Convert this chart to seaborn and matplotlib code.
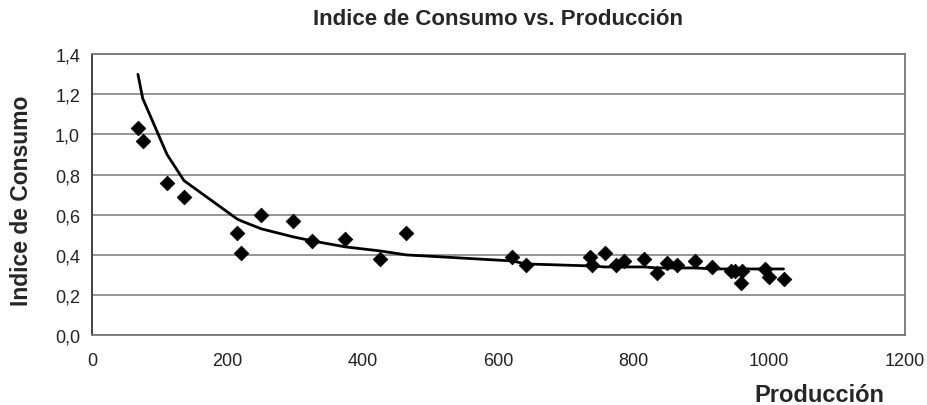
import numpy as np
import pandas as pd
import seaborn as sns
from matplotlib import pyplot as plt
from matplotlib.ticker import FuncFormatter

sns.set_style("white")
plt.rcParams['font.family'] = ['Liberation Sans', 'DejaVu Sans']

# puntos observados
produccion = [68, 75, 111, 136, 214, 220, 250, 297, 325, 374, 425, 464,
              620, 641, 736, 738, 757, 774, 786, 815, 834, 849, 863, 891,
              916, 944, 950, 958, 960, 994, 999, 1021]
indice = [1.03, 0.97, 0.76, 0.69, 0.51, 0.41, 0.60, 0.57, 0.47, 0.48, 0.38, 0.51,
          0.39, 0.35, 0.39, 0.35, 0.41, 0.35, 0.37, 0.38, 0.31, 0.36, 0.35, 0.37,
          0.34, 0.32, 0.32, 0.26, 0.32, 0.33, 0.29, 0.28]
# curva de ajuste
ajuste = [1.30, 1.18, 0.90, 0.77, 0.58, 0.57, 0.53, 0.49, 0.47, 0.44, 0.42, 0.40,
          0.37, 0.355, 0.345, 0.345, 0.34, 0.34, 0.34, 0.34, 0.335, 0.335, 0.335, 0.335,
          0.33, 0.33, 0.33, 0.33, 0.33, 0.33, 0.33, 0.33]

df = pd.DataFrame({"Producción": produccion, "Indice": indice, "Ajuste": ajuste})

fig = plt.figure(figsize=(9.28, 4.06), dpi=100)
ax = fig.add_axes([0.099, 0.172, 0.876, 0.692])

ax.grid(axis="y", color="#8c8c8c", linewidth=1.3)
ax.set_axisbelow(True)

sns.lineplot(data=df, x="Producción", y="Ajuste", color="black", linewidth=2.0,
             sort=True, ax=ax, zorder=2)
sns.scatterplot(data=df, x="Producción", y="Indice", marker="D", color="black",
                s=55, edgecolor="black", ax=ax, zorder=3)

ax.set_xlim(0, 1200)
ax.set_ylim(0, 1.4)
ax.set_xticks(range(0, 1201, 200))
ax.set_yticks(np.arange(0, 1.41, 0.2))
ax.yaxis.set_major_formatter(FuncFormatter(lambda v, p: f"{v:.1f}".replace(".", ",")))
ax.tick_params(axis="both", direction="out", length=5, width=1, color="#555555",
               labelsize=13, labelcolor="#222222")
ax.tick_params(axis="x", pad=7)

for side in ["left", "bottom", "right", "top"]:
    ax.spines[side].set_color("#777777")
    ax.spines[side].set_linewidth(1.3)
ax.spines["left"].set_color("#333333")

ax.set_title("Indice de Consumo vs. Producción", fontsize=16, fontweight="bold", pad=22)
ax.set_xlabel("Producción", fontsize=17, fontweight="bold", ha="right", va="center")
ax.xaxis.set_label_coords(0.975, -0.21)
ax.set_ylabel("Indice de Consumo", fontsize=16.5, fontweight="bold", va="center")
ax.yaxis.set_label_coords(-0.086, 0.48)

fig.savefig("out.png", dpi=100)
